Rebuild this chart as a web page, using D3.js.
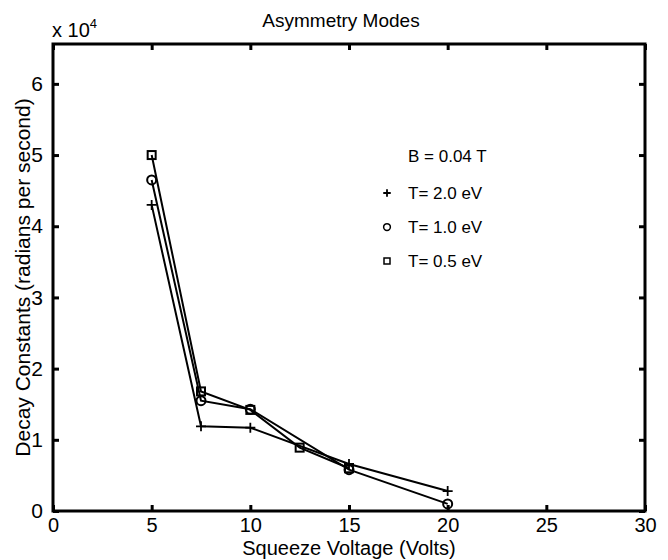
<!DOCTYPE html>
<html lang="en">
<head>
    <meta charset="UTF-8">
    <title>Asymmetry Modes</title>
    <style>
        body { margin: 0; background: #fff; }
        svg { display: block; font-family: "Liberation Sans", Arial, sans-serif; }
        .axis path, .axis line { stroke: #000; }
        .data-line { fill: none; stroke: #000; stroke-width: 2; }
    </style>
</head>
<body>
    <div id="chart"></div>

    <script src="https://d3js.org/d3.v7.min.js"></script>
    <script>
        // Values
        const xTicks = [0, 5, 10, 15, 20, 25, 30];
        const yTicks = [0, 10000, 20000, 30000, 40000, 50000, 60000];

        const voltsT20 = [5, 7.5, 10, 15, 20];
        const decayT20 = [43000, 11900, 11700, 6600, 2800];

        const voltsT10 = [5, 7.5, 10, 15, 20];
        const decayT10 = [46500, 15500, 14300, 5800, 1000];

        const voltsT05 = [5, 7.5, 10, 12.5, 15];
        const decayT05 = [50000, 16800, 14200, 8900, 6000];

        const seriesNames = ["T= 2.0 eV", "T= 1.0 eV", "T= 0.5 eV"];
        const markerTypes = ["plus", "circle", "square"];

        const series = [
            { name: seriesNames[0], marker: markerTypes[0], x: voltsT20, y: decayT20 },
            { name: seriesNames[1], marker: markerTypes[1], x: voltsT10, y: decayT10 },
            { name: seriesNames[2], marker: markerTypes[2], x: voltsT05, y: decayT05 }
        ];

        const W = 668, H = 560;
        const plotLeft = 53, plotRight = 645, plotTop = 44, plotBottom = 511;

        const svg = d3.select("#chart").append("svg")
            .attr("width", W)
            .attr("height", H);

        svg.append("rect").attr("width", W).attr("height", H).attr("fill", "#fff");

        const x = d3.scaleLinear().domain([0, 30]).range([plotLeft, plotRight]);
        const y = d3.scaleLinear().domain([0, 65600]).range([plotBottom, plotTop]);

        // box
        svg.append("rect")
            .attr("x", plotLeft).attr("y", plotTop)
            .attr("width", plotRight - plotLeft).attr("height", plotBottom - plotTop)
            .attr("fill", "none").attr("stroke", "#000").attr("stroke-width", 3);

        // axes (ticks pointing inward, matlab style)
        const xAxis = svg.append("g").attr("class", "axis")
            .attr("transform", `translate(0,${plotBottom})`)
            .call(d3.axisBottom(x).tickValues(xTicks).tickSizeInner(-6).tickSizeOuter(0).tickPadding(7));
        xAxis.select(".domain").remove();
        xAxis.selectAll("line").attr("stroke-width", 3);
        xAxis.selectAll("text").attr("font-size", 20).attr("fill", "#000");

        const xTop = svg.append("g").attr("class", "axis")
            .attr("transform", `translate(0,${plotTop})`)
            .call(d3.axisTop(x).tickValues(xTicks).tickSizeInner(-6).tickSizeOuter(0).tickFormat(""));
        xTop.select(".domain").remove();
        xTop.selectAll("line").attr("stroke-width", 3);

        const yAxis = svg.append("g").attr("class", "axis")
            .attr("transform", `translate(${plotLeft},0)`)
            .call(d3.axisLeft(y).tickValues(yTicks).tickSizeInner(-6).tickSizeOuter(0).tickPadding(10)
                .tickFormat(d => d / 10000));
        yAxis.select(".domain").remove();
        yAxis.selectAll("line").attr("stroke-width", 3);
        yAxis.selectAll("text").attr("font-size", 21).attr("fill", "#000");

        const yRight = svg.append("g").attr("class", "axis")
            .attr("transform", `translate(${plotRight},0)`)
            .call(d3.axisRight(y).tickValues(yTicks).tickSizeInner(-6).tickSizeOuter(0).tickFormat(""));
        yRight.select(".domain").remove();
        yRight.selectAll("line").attr("stroke-width", 3);

        // exponent label
        const expo = svg.append("text").attr("x", 52).attr("y", 37).attr("font-size", 20);
        expo.append("tspan").text("x 10");
        expo.append("tspan").attr("dy", -9).attr("font-size", 13).text("4");

        // title and labels
        svg.append("text")
            .attr("x", 341).attr("y", 27)
            .attr("text-anchor", "middle")
            .attr("font-size", 19)
            .text("Asymmetry Modes");

        svg.append("text")
            .attr("x", 349).attr("y", 555)
            .attr("text-anchor", "middle")
            .attr("font-size", 20)
            .text("Squeeze Voltage (Volts)");

        svg.append("text")
            .attr("transform", `translate(30,${(plotTop + plotBottom) / 2}) rotate(-90)`)
            .attr("text-anchor", "middle")
            .attr("font-size", 21)
            .text("Decay Constants (radians per second)");

        // markers
        function drawMarker(g, type, cx, cy, k) {
            if (type === "plus") {
                g.append("path")
                    .attr("d", `M${cx - 5 * k},${cy}H${cx + 5 * k}M${cx},${cy - 5 * k}V${cy + 5 * k}`)
                    .attr("stroke", "#000").attr("stroke-width", 1.8).attr("fill", "none");
            } else if (type === "circle") {
                g.append("circle")
                    .attr("cx", cx).attr("cy", cy).attr("r", 4.5 * k)
                    .attr("stroke", "#000").attr("stroke-width", 2 * k).attr("fill", "none");
            } else {
                g.append("rect")
                    .attr("x", cx - 4 * k).attr("y", cy - 4 * k).attr("width", 8 * k).attr("height", 8 * k)
                    .attr("stroke", "#000").attr("stroke-width", 2 * k).attr("fill", "none");
            }
        }

        const line = d3.line().x(d => x(d[0])).y(d => y(d[1]));

        series.forEach(s => {
            const pts = s.x.map((v, i) => [v, s.y[i]]);
            svg.append("path").datum(pts).attr("class", "data-line").attr("d", line);
            const g = svg.append("g");
            pts.forEach(p => drawMarker(g, s.marker, x(p[0]), y(p[1]), 1));
        });

        // legend
        svg.append("text")
            .attr("x", 408).attr("y", 162)
            .attr("font-size", 17)
            .text("B = 0.04 T");

        series.forEach((s, i) => {
            const ly = 193 + i * 34;
            const g = svg.append("g");
            drawMarker(g, s.marker, 387, ly, 0.75);
            svg.append("text")
                .attr("x", 408).attr("y", ly + 6)
                .attr("font-size", 17)
                .text(s.name);
        });
    </script>
</body>
</html>
